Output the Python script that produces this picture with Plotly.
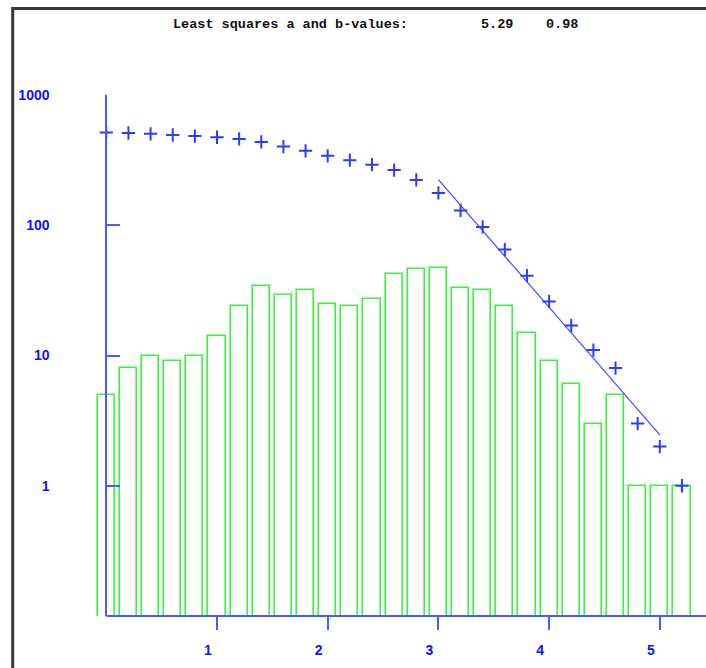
import plotly.graph_objects as go

# Magnitude bins (lower edge of each 0.2-wide bin)
magnitudes = [0.0, 0.2, 0.4, 0.6, 0.8, 1.0, 1.2, 1.4, 1.6, 1.8, 2.0, 2.2, 2.4,
              2.6, 2.8, 3.0, 3.2, 3.4, 3.6, 3.8, 4.0, 4.2, 4.4, 4.6, 4.8, 5.0, 5.2]
# Number of events in each bin
counts = [5, 8, 10, 9, 10, 14, 24, 34, 29, 32, 25, 24, 27,
          42, 46, 47, 33, 32, 24, 15, 9, 6, 3, 5, 1, 1, 1]
# Cumulative number of events with magnitude >= bin
cumulative = [516, 511, 503, 493, 484, 474, 460, 436, 402, 373, 341, 316, 292,
              265, 223, 177, 130, 97, 65, 41, 26, 17, 11, 8, 3, 2, 1]

# Gutenberg-Richter least squares fit: log10 N = a - b * M
a_value = 5.29
b_value = 0.98
fit_magnitudes = [3.0, 5.0]

x_tick_values = [1, 2, 3, 4, 5]
y_tick_values = [1, 10, 100, 1000]
y_tick_labels = ["1", "10", "100", "1000"]

# ---- styling / geometry ----
W, H = 706, 668
M_L, M_R, M_T, M_B = 84, 0, 95, 52
PX_PER_UNIT = 110.7
X0_PX = 106.3
PLOT_W = W - M_L - M_R
X_MIN = -(X0_PX - M_L) / PX_PER_UNIT
X_MAX = X_MIN + PLOT_W / PX_PER_UNIT
Y_LOG_RANGE = [-1, 3]

AXIS_BLUE = "#4a5cff"
LABEL_BLUE = "#1010ff"
MARK_BLUE = "#2a3cff"
GREEN = "#3af53a"
FRAME = "#383838"
LABEL_FONT = dict(family="Liberation Sans", size=14, color=LABEL_BLUE, weight="bold")
TITLE_FONT = dict(family="Liberation Mono", size=13.5, color="#111111", weight="bold")


def px_to_paper_x(px):
    return (px - M_L) / PLOT_W


def px_to_paper_y(py):
    return (H - M_B - py) / (H - M_T - M_B)


fit_counts = [10 ** (a_value - b_value * m) for m in fit_magnitudes]

fig = go.Figure()

# Histogram of events per magnitude bin (outlined bars)
fig.add_bar(
    x=magnitudes, y=counts, width=0.155,
    marker=dict(color="rgba(0,0,0,0)", line=dict(color=GREEN, width=1.6)),
    showlegend=False,
)

# Least squares line
fig.add_scatter(
    x=fit_magnitudes, y=fit_counts, mode="lines",
    line=dict(color="#3a4cff", width=1.2), showlegend=False,
)

# Cumulative counts
fig.add_scatter(
    x=magnitudes, y=cumulative, mode="markers",
    marker=dict(symbol="cross-thin", size=9.5,
                line=dict(color=MARK_BLUE, width=2)),
    showlegend=False, cliponaxis=False,
)

# Bottom axis line starting at magnitude 0
fig.add_shape(
    type="line", xref="x", yref="paper",
    x0=0, x1=X_MAX, y0=0, y1=0,
    line=dict(color=AXIS_BLUE, width=2), layer="above",
)

# Window frame (top and left edges)
fig.add_shape(
    type="rect", xref="paper", yref="paper",
    x0=px_to_paper_x(12.7), y0=px_to_paper_y(H + 40),
    x1=px_to_paper_x(W + 40), y1=px_to_paper_y(8.6),
    line=dict(color=FRAME, width=3), layer="above",
)

# Header text
header = [("Least squares a and b-values:", 171), ("5.29", 479), ("0.98", 544)]
for text, px in header:
    fig.add_annotation(
        text=text, xref="paper", yref="paper",
        x=px_to_paper_x(px), y=px_to_paper_y(24),
        xanchor="left", yanchor="middle", showarrow=False,
        font=TITLE_FONT,
    )

fig.update_layout(
    width=W, height=H,
    margin=dict(l=M_L, r=M_R, t=M_T, b=M_B, autoexpand=False),
    paper_bgcolor="white", plot_bgcolor="white",
    bargap=0,
    xaxis=dict(
        range=[X_MIN, X_MAX], showgrid=False, zeroline=False, showline=False,
        tickvals=x_tick_values, ticks="outside", ticklen=13, tickwidth=2,
        tickcolor=AXIS_BLUE, tickfont=LABEL_FONT,
        ticklabelshift=-9, ticklabelstandoff=8,
    ),
    yaxis=dict(
        type="log", range=Y_LOG_RANGE, showgrid=False, zeroline=False,
        anchor="free", position=px_to_paper_x(X0_PX),
        showline=True, linecolor=AXIS_BLUE, linewidth=2,
        tickvals=y_tick_values, ticktext=y_tick_labels,
        ticks="inside", ticklen=13, tickwidth=2, tickcolor=AXIS_BLUE,
        tickfont=LABEL_FONT, ticklabelstandoff=53,
    ),
)

fig.write_html("out.html", config={"displayModeBar": False})
